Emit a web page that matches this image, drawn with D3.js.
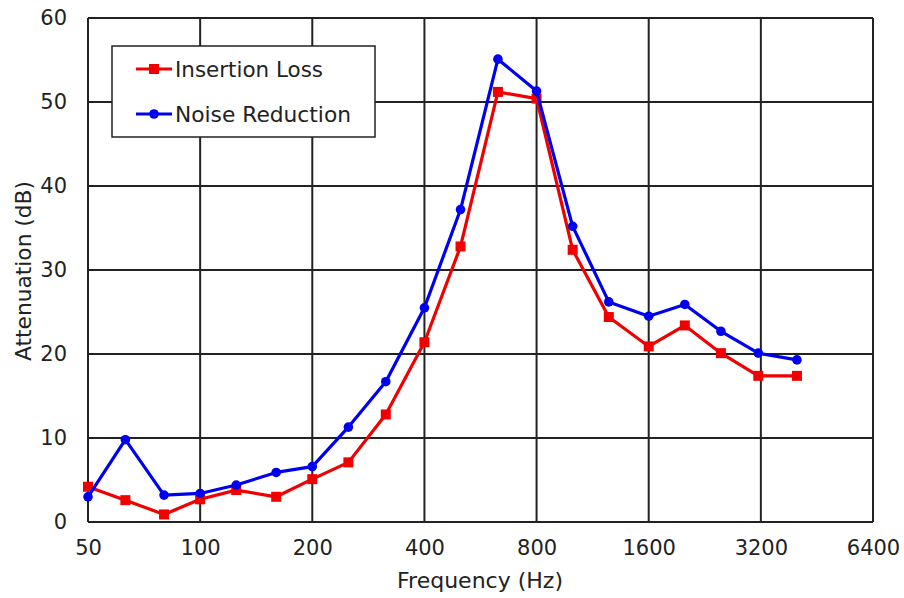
<!DOCTYPE html>
<html>
<head>
<meta charset="utf-8">
<script src="https://cdn.jsdelivr.net/npm/d3@7"></script>
<style>
  body { margin: 0; background: #fff; }
  svg text { font-family: "DejaVu Sans", sans-serif; fill: #222; }
</style>
</head>
<body>
<svg id="chart" width="904" height="598"></svg>
<script>
// 1/3-octave band centre frequencies (Hz)
const freqs = [50, 63, 80, 100, 125, 160, 200, 250, 315, 400, 500, 630, 800, 1000, 1250, 1600, 2000, 2500, 3150, 4000];
const insertionLoss = [4.2, 2.6, 0.9, 2.7, 3.8, 3.0, 5.1, 7.1, 12.8, 21.4, 32.8, 51.2, 50.4, 32.4, 24.4, 20.9, 23.4, 20.1, 17.4, 17.4];
const noiseReduction = [3.0, 9.8, 3.2, 3.4, 4.4, 5.9, 6.6, 11.3, 16.7, 25.5, 37.2, 55.1, 51.3, 35.2, 26.2, 24.5, 25.9, 22.7, 20.1, 19.3];
const xTicks = [50, 100, 200, 400, 800, 1600, 3200, 6400];
const yTicks = [0, 10, 20, 30, 40, 50, 60];

const margin = { left: 88, right: 31, top: 18, bottom: 76 };
const W = 904, H = 598;
const svg = d3.select("#chart");
const FS = "21px";

const x = d3.scaleLog().base(2).domain([50, 6400]).range([margin.left, W - margin.right]);
const y = d3.scaleLinear().domain([0, 60]).range([H - margin.bottom, margin.top]);

// grid
const grid = svg.append("g").attr("stroke", "#222").attr("stroke-width", 2);
grid.selectAll("line.v").data(xTicks).join("line")
  .attr("x1", (d) => x(d)).attr("x2", (d) => x(d))
  .attr("y1", y(0)).attr("y2", y(60));
grid.selectAll("line.h").data(yTicks).join("line")
  .attr("x1", x(50)).attr("x2", x(6400))
  .attr("y1", (d) => y(d)).attr("y2", (d) => y(d));

// axes (labels only, grid draws the lines)
const xAxis = d3.axisBottom(x).tickValues(xTicks).tickFormat(d3.format("d")).tickSize(0).tickPadding(18);
const yAxis = d3.axisLeft(y).tickValues(yTicks).tickSize(0).tickPadding(21);
svg.append("g").attr("transform", `translate(0,${y(0)})`).call(xAxis)
  .call((g) => g.select(".domain").remove())
  .selectAll("text").style("font-size", FS).attr("fill", "#222");
svg.append("g").attr("transform", `translate(${x(50)},0)`).call(yAxis)
  .call((g) => g.select(".domain").remove())
  .selectAll("text").style("font-size", FS).attr("fill", "#222");

svg.append("text").attr("x", 480).attr("y", 588)
  .attr("text-anchor", "middle").style("font-size", "21px")
  .attr("textLength", 166).attr("lengthAdjust", "spacingAndGlyphs").text("Frequency (Hz)");
svg.append("text").attr("transform", `translate(31,${271}) rotate(-90)`)
  .attr("text-anchor", "middle").style("font-size", "21px")
  .attr("textLength", 180).attr("lengthAdjust", "spacingAndGlyphs").text("Attenuation (dB)");

const line = d3.line().x((d) => x(d[0])).y((d) => y(d[1]));

function series(vals, color, marker) {
  const pts = freqs.map((f, i) => [f, vals[i]]);
  svg.append("path").datum(pts).attr("d", line)
    .attr("fill", "none").attr("stroke", color).attr("stroke-width", 3.2)
    .attr("stroke-linejoin", "round");
  const g = svg.append("g").attr("fill", color);
  if (marker === "square") {
    g.selectAll("rect").data(pts).join("rect")
      .attr("x", (d) => x(d[0]) - 5).attr("y", (d) => y(d[1]) - 5)
      .attr("width", 10).attr("height", 10);
  } else {
    g.selectAll("circle").data(pts).join("circle")
      .attr("cx", (d) => x(d[0])).attr("cy", (d) => y(d[1])).attr("r", 4.8);
  }
}
series(insertionLoss, "#f00000", "square");
series(noiseReduction, "#0000f0", "circle");

// legend
const lg = svg.append("g");
lg.append("rect").attr("x", 112).attr("y", 46).attr("width", 263).attr("height", 91)
  .attr("fill", "#fff").attr("stroke", "#222").attr("stroke-width", 1.5);
const items = [["Insertion Loss", "#f00000", "square", 148], ["Noise Reduction", "#0000f0", "circle", 176]];
items.forEach(([label, color, m, len], i) => {
  const cy = 69 + i * 45;
  lg.append("line").attr("x1", 136).attr("x2", 172).attr("y1", cy).attr("y2", cy)
    .attr("stroke", color).attr("stroke-width", 3.2);
  if (m === "square") lg.append("rect").attr("x", 149).attr("y", cy - 5).attr("width", 10).attr("height", 10).attr("fill", color);
  else lg.append("circle").attr("cx", 154).attr("cy", cy).attr("r", 4.8).attr("fill", color);
  lg.append("text").attr("x", 175).attr("y", cy + 8).style("font-size", FS)
    .attr("textLength", len).attr("lengthAdjust", "spacingAndGlyphs").text(label);
});
</script>
</body>
</html>
